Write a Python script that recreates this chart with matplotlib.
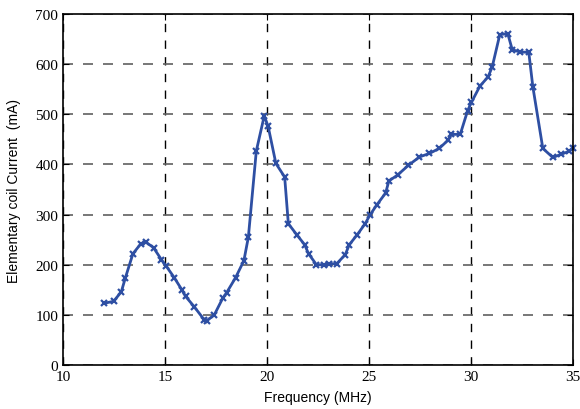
import numpy as np
import matplotlib.pyplot as plt

# Datos
frecuencia = [12.0, 12.48, 12.86, 13.06, 13.43, 13.82, 14.07, 14.44, 14.83, 15.05,
              15.46, 15.83, 16.01, 16.44, 16.93, 17.04, 17.42, 17.83, 18.02, 18.46,
              18.87, 19.09, 19.48, 19.87, 20.06, 20.44, 20.87, 21.05, 21.46, 21.85,
              22.04, 22.43, 22.81, 23.05, 23.42, 23.84, 24.04, 24.43, 24.82, 25.05,
              25.4, 25.82, 25.98, 26.41, 26.93, 27.48, 27.97, 28.45, 28.87, 29.05,
              29.48, 29.84, 30.03, 30.44, 30.85, 31.05, 31.42, 31.81, 32.03, 32.43,
              32.84, 33.04, 33.53, 34.02, 34.41, 34.8, 35.0]
corriente = [123, 127, 146, 174, 222, 242, 245, 234, 210, 198,
             174, 150, 137, 116, 90, 88, 100, 133, 144, 174,
             208, 255, 427, 497, 476, 402, 375, 282, 260, 240,
             222, 200, 200, 202, 202, 220, 240, 260, 282, 299,
             320, 343, 367, 379, 398, 415, 422, 432, 448, 460,
             460, 507, 524, 556, 575, 595, 659, 661, 629, 624,
             624, 555, 432, 414, 420, 426, 432]

xticks = [10, 15, 20, 25, 30, 35]
yticks = [0, 100, 200, 300, 400, 500, 600, 700]

fig = plt.figure(figsize=(5.8, 4.1), dpi=100)
ax = fig.add_axes([0.1086, 0.1073, 0.879, 0.856])

ax.plot(frecuencia, corriente, color='#2e4fa3', linewidth=2, marker='x',
        markersize=4.5, markeredgewidth=1.6, clip_on=False)

ax.set_xlim(10, 35)
ax.set_ylim(0, 700)
ax.set_xticks(xticks)
ax.set_yticks(yticks)
ax.set_xticklabels([str(t) for t in xticks], family='Liberation Serif', fontsize=11)
ax.set_yticklabels([str(t) for t in yticks], family='Liberation Serif', fontsize=11)
ax.tick_params(direction='in', top=True, right=True, length=4)

ax.xaxis.grid(True, color='black', linestyle=(0, (6, 6)), linewidth=1)
ax.yaxis.grid(True, color='#606060', linestyle=(0, (6, 6)), linewidth=1.2)
ax.set_axisbelow(True)

ax.set_xlabel('Frequency (MHz)', family='Liberation Sans', fontsize=10, labelpad=5)
ax.set_ylabel('Elementary coil Current  (mA)', family='Liberation Sans', fontsize=10, labelpad=10)

for s in ax.spines.values():
    s.set_linewidth(1.2)

fig.savefig('out.png', dpi=100)
